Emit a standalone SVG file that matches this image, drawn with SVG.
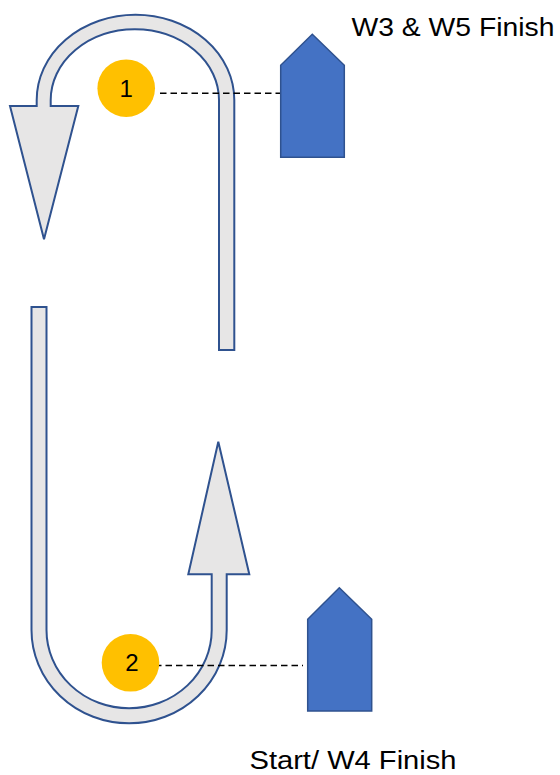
<svg xmlns="http://www.w3.org/2000/svg" width="560" height="775" viewBox="0 0 560 775">
  <style>
    .arrow { fill: #E7E6E6; stroke: #2F528F; stroke-width: 2; stroke-linejoin: miter; }
    .boat { fill: #4472C4; stroke: #2F528F; stroke-width: 1.5; }
    .mark { fill: #FFC000; }
    .num { font-family: "Liberation Sans", Arial, sans-serif; font-size: 24px; fill: #000; text-anchor: middle; }
    .lbl { font-family: "Liberation Sans", Arial, sans-serif; font-size: 26px; fill: #000; }
    .dash { stroke: #000; stroke-width: 1.5; stroke-dasharray: 6.5 4; fill: none; }
  </style>
  <rect width="560" height="775" fill="#fff"/>
  <g id="top-uturn">
    <path class="arrow" d="M44,239.3 L78.3,106 L50.7,106 L50.7,100 A84.15,70.7 0 0 1 219,100 L219,350 L234.3,350 L234.3,100 A98.8,85.3 0 0 0 36.7,100 L36.7,106 L10,106 Z"/>
  </g>
  <g id="bottom-uturn">
    <path class="arrow" d="M218.3,441.7 L249.3,574.3 L226.7,574.3 L226.7,630 A97.6,93.3 0 0 1 31.5,630 L31.5,307 L46.5,307 L46.5,630 A82.6,78.3 0 0 0 211.7,630 L211.7,574.3 L188.3,574.3 Z"/>
  </g>
  <g id="connectors">
    <line class="dash" x1="160" y1="93.3" x2="288" y2="93.3"/>
    <line class="dash" x1="155" y1="665.5" x2="303" y2="665.5"/>
  </g>
  <g id="mark1">
    <circle class="mark" cx="126.2" cy="88.2" r="28.8"/>
    <text class="num" x="126.2" y="96.8">1</text>
  </g>
  <g id="mark2">
    <circle class="mark" cx="130.5" cy="662.8" r="28.8"/>
    <text class="num" x="132" y="671.4">2</text>
  </g>
  <g id="boat1">
    <path class="boat" d="M312.3,34.3 L344.3,65.3 L344.3,157.3 L280.7,157.3 L280.7,65.3 Z"/>
  </g>
  <g id="boat2">
    <path class="boat" d="M339.3,587.7 L371.7,619.3 L371.7,711 L307.7,711 L307.7,619.3 Z"/>
  </g>
  <g id="label1">
    <text class="lbl" x="351.5" y="35.5" textLength="203" lengthAdjust="spacingAndGlyphs">W3 &amp; W5 Finish</text>
  </g>
  <g id="label2">
    <text class="lbl" x="249.5" y="768.5" textLength="207" lengthAdjust="spacingAndGlyphs">Start/ W4 Finish</text>
  </g>
</svg>
